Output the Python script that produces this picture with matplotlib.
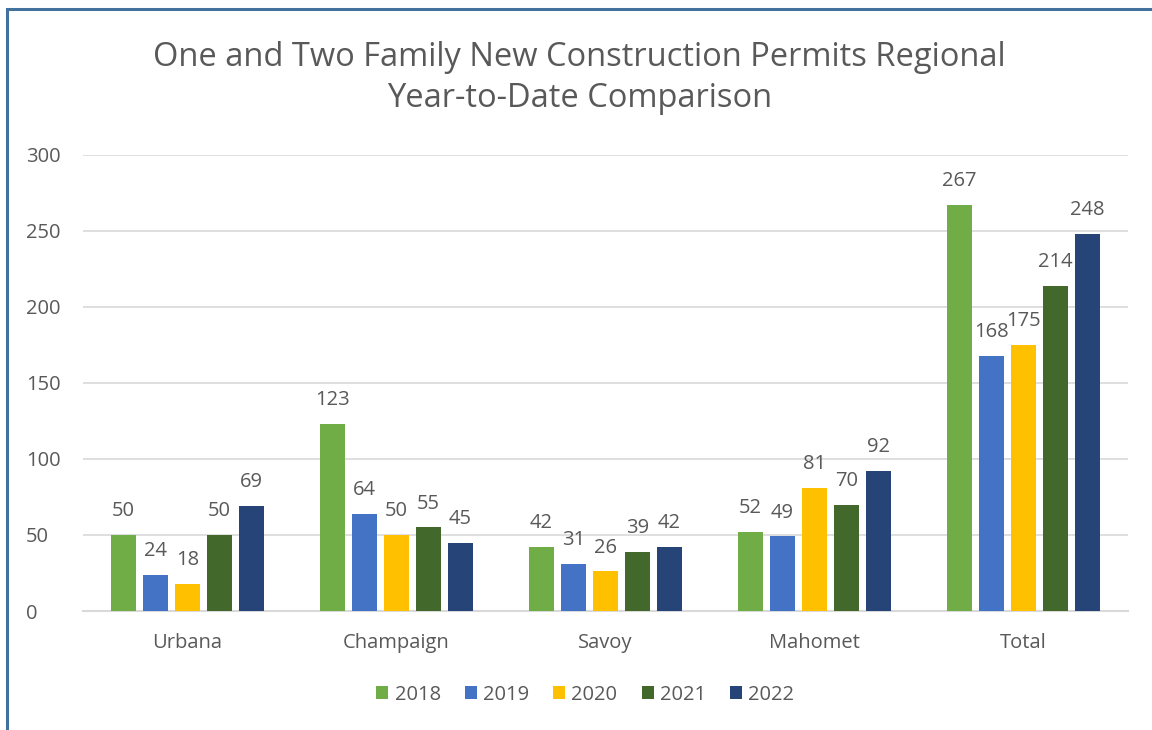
import matplotlib.pyplot as plt
import numpy as np
from matplotlib.patches import Rectangle

# data
regions = ['Urbana', 'Champaign', 'Savoy', 'Mahomet', 'Total']
years = ['2018', '2019', '2020', '2021', '2022']
v2018 = [50, 123, 42, 52, 267]
v2019 = [24, 64, 31, 49, 168]
v2020 = [18, 50, 26, 81, 175]
v2021 = [50, 55, 39, 70, 214]
v2022 = [69, 45, 42, 92, 248]
series = [v2018, v2019, v2020, v2021, v2022]
colors = ['#70ad47', '#4472c4', '#ffc000', '#43682b', '#264478']

plt.rcParams['font.family'] = ['Open Sans', 'DejaVu Sans']
gray = '#595959'

fig = plt.figure(figsize=(11.52, 7.30), dpi=100)
ax = fig.add_axes([0.072, 0.163, 0.907, 0.625])

x = np.arange(len(regions))
width = 0.12
step = 0.153
for i, (vals, c, yr) in enumerate(zip(series, colors, years)):
    pos = x + (i - 2) * step
    bars = ax.bar(pos, vals, width, color=c, label=yr, zorder=3)
    for b, v in zip(bars, vals):
        ax.text(b.get_x() + b.get_width() / 2, v + 9, str(v), ha='center', va='bottom',
                fontsize=14.5, color=gray)

ax.set_xlim(-0.5, len(regions) - 0.5)
ax.set_ylim(0, 300)
ax.set_yticks(range(0, 301, 50))
ax.set_xticks(x)
ax.set_xticklabels(regions)
ax.tick_params(axis='both', length=0, labelsize=14.5, colors=gray)
ax.tick_params(axis='x', pad=16)
ax.tick_params(axis='y', pad=41)
for lbl in ax.get_yticklabels():
    lbl.set_horizontalalignment('left')
ax.grid(axis='y', color='#d9d9d9', linewidth=1.2, zorder=0)
for s in ['top', 'right', 'left']:
    ax.spines[s].set_visible(False)
ax.spines['bottom'].set_color('#d9d9d9')
ax.spines['bottom'].set_linewidth(1.5)

fig.text(0.503, 0.893, 'One and Two Family New Construction Permits Regional\nYear-to-Date Comparison',
         ha='center', va='center', fontsize=23.5, color=gray, linespacing=1.35)

fig.legend(loc='center', bbox_to_anchor=(0.508, 0.048), ncol=5, frameon=False,
           fontsize=14.5, handlelength=0.6, handleheight=0.6, handletextpad=0.3,
           columnspacing=1.2, labelcolor=gray)

# outer border
fig.patches.append(Rectangle((7 / 1152, -0.1), 1.2, (730 - 9) / 730 + 0.1,
                             transform=fig.transFigure, fill=False,
                             edgecolor='#41719c', linewidth=2.2))

fig.savefig('out.png', dpi=100)
